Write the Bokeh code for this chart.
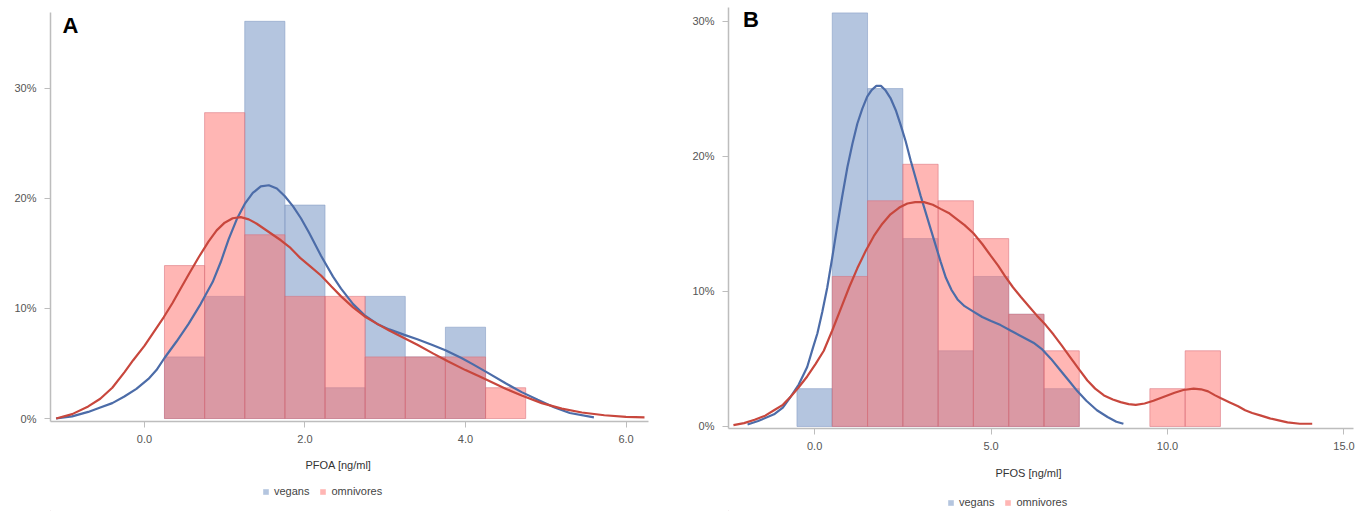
from bokeh.plotting import figure
from bokeh.layouts import row, column
from bokeh.models import (ColumnDataSource, Range1d, FixedTicker, Legend, LegendItem,
                          Label, PrintfTickFormatter)
from bokeh.embed import file_html
from bokeh.resources import INLINE

# ---------------- data ----------------
# Panel A: PFOA [ng/ml], bins of width 0.5 (percent of group)
pfoa_bin_centers = [0.5, 1.0, 1.5, 2.0, 2.5, 3.0, 3.5, 4.0, 4.5]
pfoa_vegans = [5.6, 11.1, 36.1, 19.4, 2.8, 11.1, 5.6, 8.3, 0.0]
pfoa_omnivores = [13.9, 27.8, 16.7, 11.1, 11.1, 5.6, 5.6, 5.6, 2.8]

pfoa_kde_vegans_x = [-1.1, -0.9, -0.7, -0.55, -0.4, -0.25, -0.1, 0.05, 0.15, 0.25, 0.4,
                     0.55, 0.7, 0.85, 0.95, 1.05, 1.15, 1.25, 1.35, 1.45, 1.55, 1.65,
                     1.75, 1.85, 1.95, 2.05, 2.2, 2.35, 2.45, 2.6, 2.74, 2.9, 3.05, 3.24,
                     3.4, 3.58, 3.75, 3.95, 4.1, 4.29, 4.5, 4.7, 4.9, 5.11, 5.3, 5.6]
pfoa_kde_vegans_y = [0.0, 0.2, 0.6, 1.0, 1.4, 2.0, 2.7, 3.6, 4.4, 5.5, 7.0,
                     8.6, 10.4, 12.4, 14.2, 16.3, 18.1, 19.5, 20.5, 21.1, 21.2, 20.9,
                     20.2, 19.3, 18.2, 16.9, 14.8, 12.9, 11.8, 10.4, 9.4, 8.6, 8.1, 7.6,
                     7.2, 6.7, 6.2, 5.5, 4.9, 4.1, 3.2, 2.4, 1.7, 1.0, 0.5, 0.1]
pfoa_kde_omni_x = [-1.1, -0.9, -0.7, -0.55, -0.4, -0.25, -0.14, 0.0, 0.12, 0.24, 0.35,
                   0.45, 0.56, 0.68, 0.8, 0.9, 1.0, 1.1, 1.2, 1.3, 1.4, 1.5, 1.6, 1.7,
                   1.82, 1.94, 2.07, 2.2, 2.33, 2.45, 2.6, 2.74, 2.9, 3.05, 3.24, 3.4,
                   3.6, 3.78, 4.0, 4.15, 4.27, 4.5, 4.7, 4.95, 5.2, 5.45, 5.73, 6.0, 6.23]
pfoa_kde_omni_y = [0.0, 0.4, 1.1, 1.8, 2.8, 4.2, 5.3, 6.6, 7.9, 9.2, 10.5,
                   11.8, 13.2, 14.7, 16.1, 17.1, 17.8, 18.2, 18.3, 18.1, 17.7, 17.2, 16.7, 16.2,
                   15.5, 14.6, 13.8, 13.0, 12.0, 11.1, 10.1, 9.3, 8.6, 8.0, 7.3, 6.7,
                   5.9, 5.2, 4.4, 3.9, 3.5, 2.7, 2.1, 1.4, 0.9, 0.55, 0.3, 0.15, 0.1]

# Panel B: PFOS [ng/ml], bins of width 1 (percent of group)
pfos_bin_centers = [0, 1, 2, 3, 4, 5, 6, 7, 8, 9, 10, 11]
pfos_vegans = [2.8, 30.6, 25.0, 13.9, 5.6, 11.1, 8.3, 2.8, 0.0, 0.0, 0.0, 0.0]
pfos_omnivores = [0.0, 11.1, 16.7, 19.4, 16.7, 13.9, 8.3, 5.6, 0.0, 0.0, 2.8, 5.6]

pfos_kde_vegans_x = [-1.9, -1.6, -1.15, -0.9, -0.68, -0.45, -0.21, -0.05, 0.08, 0.22, 0.36,
                     0.5, 0.64, 0.78, 0.93, 1.07, 1.21, 1.35, 1.49, 1.62, 1.75, 1.88, 2.0,
                     2.15, 2.3, 2.44, 2.58, 2.72, 2.86, 3.0, 3.14, 3.29, 3.43, 3.57, 3.72,
                     3.88, 4.05, 4.25, 4.5, 4.75, 5.0, 5.27, 5.55, 5.84, 6.2, 6.45, 6.7,
                     6.95, 7.2, 7.45, 7.7, 8.0, 8.3, 8.55, 8.75]
pfos_kde_vegans_y = [0.15, 0.4, 0.9, 1.4, 2.2, 3.1, 4.4, 5.8, 6.9, 8.5, 10.3,
                     12.5, 14.8, 17.0, 19.2, 20.9, 22.4, 23.5, 24.4, 24.9, 25.2, 25.2, 24.9,
                     24.3, 23.4, 22.3, 21.1, 19.7, 18.4, 17.1, 15.9, 14.6, 13.4, 12.2, 11.0,
                     10.1, 9.4, 8.9, 8.5, 8.1, 7.8, 7.5, 7.1, 6.7, 6.2, 5.7, 5.0,
                     4.2, 3.4, 2.6, 1.9, 1.2, 0.7, 0.35, 0.2]
pfos_kde_omni_x = [-2.3, -2.0, -1.7, -1.4, -1.15, -0.9, -0.68, -0.45, -0.21, 0.02, 0.26,
                   0.5, 0.74, 0.98, 1.21, 1.45, 1.68, 1.92, 2.15, 2.4, 2.63, 2.85, 3.1,
                   3.35, 3.57, 3.8, 4.0, 4.25, 4.5, 4.75, 5.0, 5.2, 5.4, 5.62, 5.84,
                   6.07, 6.3, 6.55, 6.77, 7.0, 7.25, 7.5, 7.73, 7.95, 8.2, 8.45, 8.67,
                   8.9, 9.1, 9.35, 9.6, 9.9, 10.2, 10.45, 10.74, 10.95, 11.15, 11.35, 11.5,
                   11.75, 12.0, 12.2, 12.4, 12.65, 12.9, 13.15, 13.4, 13.75, 14.1]
pfos_kde_omni_y = [0.1, 0.25, 0.5, 0.8, 1.2, 1.6, 2.2, 2.9, 3.7, 4.6, 5.6,
                   7.1, 8.7, 10.3, 11.7, 13.0, 14.1, 15.0, 15.7, 16.2, 16.5, 16.6, 16.6,
                   16.4, 16.1, 15.8, 15.4, 14.9, 14.3, 13.5, 12.6, 11.9, 11.1, 10.3, 9.6,
                   8.9, 8.2, 7.5, 6.8, 6.0, 5.1, 4.2, 3.4, 2.8, 2.3, 2.0, 1.8,
                   1.65, 1.6, 1.7, 1.9, 2.2, 2.5, 2.7, 2.8, 2.75, 2.6, 2.3, 2.1,
                   1.8, 1.5, 1.2, 1.0, 0.8, 0.6, 0.45, 0.3, 0.2, 0.2]

y_ticks_A = [0, 10, 20, 30]
y_ticks_B = [0, 10, 20, 30]
x_ticks_A = [0, 2, 4, 6]
x_ticks_B = [0, 5, 10, 15]
series_labels = ["vegans", "omnivores"]
axis_titles = ["PFOA [ng/ml]", "PFOS [ng/ml]"]
panel_letters = ["A", "B"]

# ---------------- style ----------------
FONT = "Liberation Sans"
BLUE_FILL = "#6a8bc0"
RED_FILL = "#ff6e69"
BLUE_LINE = "#4c6ca8"
RED_LINE = "#c8473d"
AXIS_COL = "#bdbdbd"
TICK_TXT = "#555555"


def make_panel(title, centers, width, veg, omni, kvx, kvy, kox, koy,
               xr, yr, xticks, yticks, fig_w, fig_h, borders, label_pos):
    bl, br, bt, bb = borders
    p = figure(width=fig_w, height=fig_h, output_backend="svg", toolbar_location=None,
               x_range=Range1d(*xr), y_range=Range1d(*yr),
               min_border_left=bl, min_border_right=br, min_border_top=bt,
               min_border_bottom=bb)
    p.outline_line_color = None
    p.xgrid.visible = False
    p.ygrid.visible = False
    p.background_fill_color = "white"
    p.border_fill_color = "white"

    vsrc = ColumnDataSource(dict(x=[c for c, v in zip(centers, veg) if v > 0],
                                 top=[v for v in veg if v > 0]))
    osrc = ColumnDataSource(dict(x=[c for c, v in zip(centers, omni) if v > 0],
                                 top=[v for v in omni if v > 0]))
    p.vbar(x="x", top="top", bottom=0, width=width, source=vsrc,
           fill_color=BLUE_FILL, fill_alpha=0.5,
           line_color="#8299c2", line_alpha=0.55, line_width=1)
    p.vbar(x="x", top="top", bottom=0, width=width, source=osrc,
           fill_color=RED_FILL, fill_alpha=0.5,
           line_color="#d9707a", line_alpha=0.55, line_width=1)
    p.line(kvx, kvy, line_color=BLUE_LINE, line_width=2.2)
    p.line(kox, koy, line_color=RED_LINE, line_width=2.2)

    for ax in (p.xaxis[0], p.yaxis[0]):
        ax.axis_line_color = AXIS_COL
        ax.axis_line_width = 1.5
        ax.major_tick_line_color = AXIS_COL
        ax.major_tick_line_width = 1
        ax.major_tick_in = 0
        ax.major_tick_out = 6
        ax.minor_tick_line_color = None
        ax.major_label_text_font = FONT
        ax.major_label_text_font_size = "11px"
        ax.major_label_text_color = TICK_TXT

    p.xaxis.ticker = FixedTicker(ticks=xticks)
    p.xaxis.formatter = PrintfTickFormatter(format="%.1f")
    p.xaxis.major_label_standoff = 7

    p.yaxis.ticker = FixedTicker(ticks=yticks)
    p.yaxis.major_label_overrides = {t: f"{t}%" for t in yticks}
    p.yaxis.major_label_standoff = 8

    p.add_layout(Label(x=label_pos[0], y=label_pos[1], text=title,
                       text_font=FONT, text_font_size="22px",
                       text_font_style="bold", text_color="black",
                       text_baseline="alphabetic"))
    return p


def make_footer(fig_w, fig_h, frame_x, xtitle, title_pos, legend_loc):
    # The footer's frame is aligned with the panel's frame (column layout),
    # so its x range is given in the figure's own pixel positions.
    q = figure(width=fig_w, height=fig_h, output_backend="svg", toolbar_location=None,
               x_range=Range1d(*frame_x), y_range=Range1d(0, fig_h),
               x_axis_location=None, y_axis_location=None,
               min_border=0, min_border_left=0, min_border_right=0,
               min_border_top=0, min_border_bottom=0)
    q.grid.visible = False
    q.outline_line_color = None
    q.background_fill_color = "white"
    q.border_fill_color = "white"
    # swatch renderers (their single bar sits outside the visible range)
    sv = ColumnDataSource(dict(x=[-1000], top=[1]))
    so = ColumnDataSource(dict(x=[-1000], top=[1]))
    rv = q.vbar(x="x", top="top", width=1, source=sv,
                fill_color=BLUE_FILL, fill_alpha=0.5, line_color=None)
    ro = q.vbar(x="x", top="top", width=1, source=so,
                fill_color=RED_FILL, fill_alpha=0.5, line_color=None)
    legend = Legend(items=[LegendItem(label=series_labels[0], renderers=[rv]),
                           LegendItem(label=series_labels[1], renderers=[ro])],
                    orientation="horizontal", location=legend_loc,
                    glyph_width=7, glyph_height=7, label_standoff=5, spacing=10,
                    padding=0, margin=0, border_line_color=None,
                    background_fill_alpha=0,
                    label_text_font=FONT, label_text_font_size="11px",
                    label_text_color="#444444", label_height=12)
    q.add_layout(legend, "center")
    q.add_layout(Label(x=title_pos[0], y=title_pos[1], text=xtitle,
                       text_font=FONT, text_font_size="11px",
                       text_color="#333333", text_align="center",
                       text_baseline="middle"))
    return q


pA = make_panel(panel_letters[0], pfoa_bin_centers, 0.5, pfoa_vegans, pfoa_omnivores,
                pfoa_kde_vegans_x, pfoa_kde_vegans_y, pfoa_kde_omni_x, pfoa_kde_omni_y,
                (-1.17, 6.28), (-0.27, 36.9), x_ticks_A, y_ticks_A,
                665, 448, (50, 17, 12, 27), (-1.02, 35.7))
pB = make_panel(panel_letters[1], pfos_bin_centers, 1.0, pfos_vegans, pfos_omnivores,
                pfos_kde_vegans_x, pfos_kde_vegans_y, pfos_kde_omni_x, pfos_kde_omni_y,
                (-2.44, 15.27), (-0.15, 31.0), x_ticks_B, y_ticks_B,
                704, 455, (63, 16, 7, 27), (-2.03, 30.1))

fA = make_footer(665, 63, (50, 648), axis_titles[0], (338, 47), (212, 14))
fB = make_footer(704, 56, (63, 688), axis_titles[1], (363, 39), (219, 3))

layout = row(column(pA, fA), column(pB, fB))
open("out.html", "w").write(file_html(layout, INLINE))
